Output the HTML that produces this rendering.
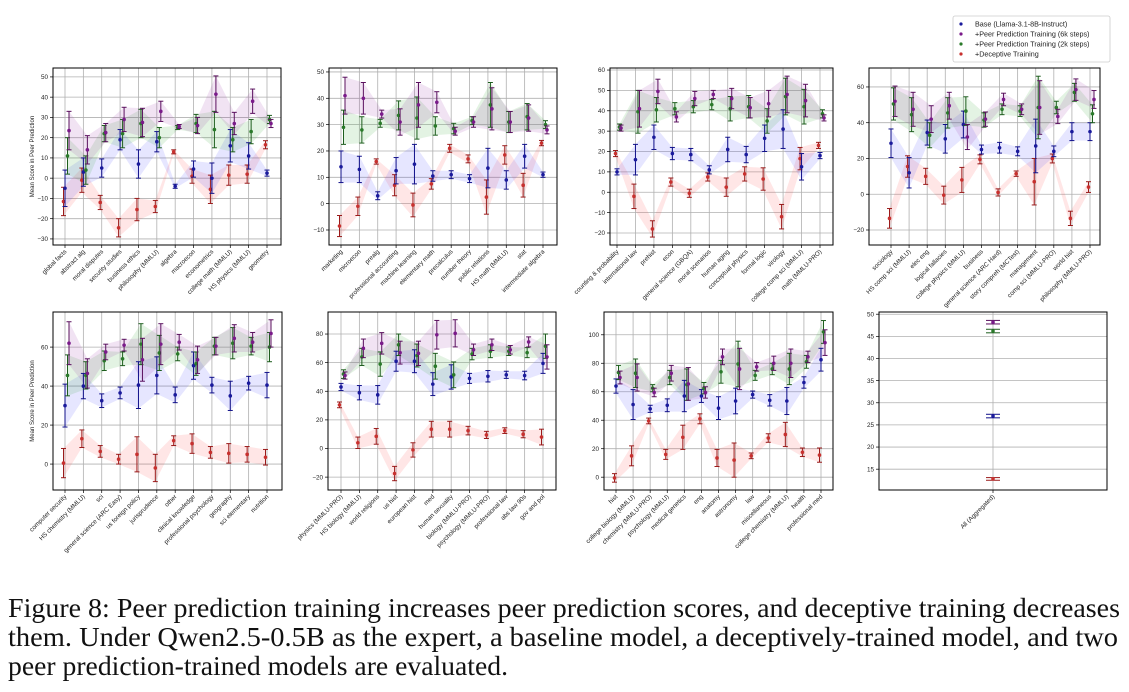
<!DOCTYPE html>
<html><head><meta charset="utf-8"><style>
html,body{margin:0;padding:0;background:#fff;}
svg{display:block;font-family:"Liberation Sans",sans-serif;}
</style></head><body>
<svg id="fig" width="1129" height="692" viewBox="0 0 1129 692" xmlns="http://www.w3.org/2000/svg">
<g id="panels"></g>
<g id="legend">
<rect x="953" y="16" width="157" height="46" rx="2" fill="#fff" stroke="#ccc" stroke-width="0.8"/>
<circle cx="961" cy="24" r="1.6" fill="#1a1a9c"/>
<text x="975" y="26.5" font-size="7.2" fill="#222">Base (Llama-3.1-8B-Instruct)</text>
<circle cx="961" cy="34" r="1.6" fill="#7a1a8a"/>
<text x="975" y="36.5" font-size="7.2" fill="#222">+Peer Prediction Training (6k steps)</text>
<circle cx="961" cy="44" r="1.6" fill="#2a7a2a"/>
<text x="975" y="46.5" font-size="7.2" fill="#222">+Peer Prediction Training (2k steps)</text>
<circle cx="961" cy="54" r="1.6" fill="#c8302e"/>
<text x="975" y="56.5" font-size="7.2" fill="#222">+Deceptive Training</text>
</g>
<g font-family="Liberation Serif, serif" font-size="27.5" fill="#111">
<text x="8" y="617" textLength="1112" lengthAdjust="spacingAndGlyphs">Figure 8: Peer prediction training increases peer prediction scores, and deceptive training decreases</text>
<text x="8" y="646" textLength="1110" lengthAdjust="spacingAndGlyphs">them. Under Qwen2.5-0.5B as the expert, a baseline model, a deceptively-trained model, and two</text>
<text x="8" y="675" textLength="500" lengthAdjust="spacingAndGlyphs">peer prediction-trained models are evaluated.</text>
</g>
</svg>
<script>
const p1Cats=["global facts","abstract alg","moral disputes","security studies","business ethics","philosophy (MMLU)","algebra","macroecon","econometrics","college math (MMLU)","HS physics (MMLU)","geometry"];
const p1Blue=[[-5,9],[3,7],[5,4.5],[19,5],[7,7],[18,5],[-4,1],[4.5,4],[0,7.5],[16,8],[11,6.5],[2.5,1.5]];
const p1Green=[[11,9],[4,7],[22,4],[22,7],[27,7],[20,5],[25,1],[27,4.5],[24,9],[19,6],[23,6],[29,2]];
const p1Purple=[[23.5,9.5],[14,7],[22.5,4.5],[29,6],[27.5,7],[33,5],[25.5,1],[26,4],[41.5,9],[27,5.5],[38,6],[27,2]];
const p1Red=[[-11.5,7],[-1,6],[-12,3.5],[-24.5,4.5],[-15.5,5.5],[-14,3],[13,1],[1,3.5],[-5.5,7],[1.5,5],[2,4.5],[16.5,2]];
const p1Ticks=[-30,-20,-10,0,10,20,30,40,50];

const p2Cats=["marketing","microecon","prealg","professional accounting","machine learning","elementary math","precalculus","number theory","public relations","HS math (MMLU)","stat","intermediate algebra"];
const p2Blue=[[14,6],[13,5],[3,1.5],[12.5,5],[15,7.5],[10.5,2],[11,1.5],[9.5,1.5],[13.5,7.5],[9,3.5],[18,4.5],[11,1]];
const p2Green=[[29,6.5],[28,5],[30.5,1.5],[33.5,5.5],[32.5,8],[29.5,3.5],[28.5,2],[31.5,1.5],[37.5,8.5],[31,4],[33,5],[30,1.5]];
const p2Purple=[[41,7],[40,6],[34,1.5],[31,5],[37.5,8.5],[38.5,4],[27.5,1.5],[31,2],[36,8],[31,4],[32.5,5],[28,1.5]];
const p2Red=[[-8.5,4],[-1,3.5],[16,1],[7,4],[-0.5,4.5],[7.5,2],[21,1.5],[17,1.5],[2.5,6.5],[18.5,3.5],[7,4.5],[23,1]];
const p2Ticks=[-10,0,10,20,30,40,50];

const p3Cats=["counting & probability","international law","prehist","econ","general science (GBQA)","moral scenarios","human aging","conceptual physics","formal logic","virology","college comp sci (MMLU)","math (MMLU-PRO)"];
const p3Blue=[[10,1.5],[16,7.5],[27,6],[19,3],[18.5,3],[11,2],[21,6],[18.5,4],[26.5,6.5],[31,9.5],[12.5,6.5],[18,1.5]];
const p3Green=[[32,1.5],[39.5,10.5],[40.5,6],[41,3],[42,3],[43,2.5],[41,6],[42,5.5],[35,6],[47,9],[42,8.5],[38.5,2]];
const p3Purple=[[31.5,1.5],[41,9],[49.5,6],[37,2.5],[46,3.5],[48,2],[46,5],[41.5,5],[43.5,6.5],[48,9],[45,8],[36.5,1.5]];
const p3Red=[[19,1.5],[-2,6],[-18,4],[5,2],[-0.5,2],[7.5,2],[2.5,4.5],[9,3.5],[6.5,5.5],[-12,6],[16.5,5.5],[23,1.5]];
const p3Ticks=[-20,-10,0,10,20,30,40,50,60];

const p4Cats=["sociology","HS comp sci (MMLU)","elec eng","logical fallacies","college physics (MMLU)","business","general science (ARC Hard)","story compreh (MCTest)","management","comp sci (MMLU-PRO)","world hist","philosophy (MMLU-PRO)"];
const p4Blue=[[28.5,8],[12,8.5],[34.5,7],[31,8],[39,7.5],[25,2.5],[26,3],[24,2.5],[27,15],[24,3],[35,5],[35,5]];
const p4Green=[[50.5,9],[44.5,9.5],[33,7],[45.5,8.5],[46.5,8],[41.5,4],[47.5,3],[46.5,3],[48.5,17.5],[48.5,3.5],[57,5],[45,5]];
const p4Purple=[[52,8.5],[47.5,9.5],[42,7.5],[49.5,7.5],[32,7],[42,4],[53,3.5],[47.5,3],[48.5,15],[43.5,4],[58.5,6],[53,5]];
const p4Red=[[-13.5,5.5],[15.5,6],[10,4.5],[-0.5,5],[8,7],[19.5,2.5],[1,2],[11.5,1.5],[7,13],[20,2.5],[-13.5,4],[4,3]];
const p4Ticks=[-20,0,20,40,60];

const p5Cats=["computer security","HS chemistry (MMLU)","sci","general science (ARC Easy)","us foreign policy","jurisprudence","other","clinical knowledge","professional psychology","geography","sci elementary","nutrition"];
const p5Blue=[[30,11],[40,6.5],[32.5,3.5],[36.5,3],[40.5,12],[45.5,9.5],[35.5,4],[50.5,7],[40.5,4],[35,7.5],[41.5,3.5],[40.5,6.5]];
const p5Green=[[45.5,10.5],[45.5,7],[53,5],[54,3.5],[61.5,10.5],[57,9],[56.5,3.5],[51.5,6],[60.5,4.5],[62,8],[60.5,4.5],[60,7.5]];
const p5Purple=[[62,11],[46.5,7.5],[57.5,4],[61,3],[53.5,11],[61.5,10.5],[62.5,4],[53.5,7],[60.5,4.5],[64.5,7],[62.5,5],[67,7]];
const p5Red=[[0.5,7.5],[13,4.5],[6.5,3],[2.5,2.5],[5,9],[-2,7],[12,2.5],[10.5,5],[6,3],[5.5,5],[5,4],[3.5,4]];
const p5Ticks=[0,20,40,60];

const p6Cats=["physics (MMLU-PRO)","HS biology (MMLU)","world religions","us hist","european hist","med","human sexuality","biology (MMLU-PRO)","psychology (MMLU-PRO)","professional law","abs law 90s","gov and pol"];
const p6Blue=[[43,2.5],[39,5],[37.5,6.5],[61,7],[61,8],[45,8],[50,8.5],[49,3.5],[50.5,4],[51.5,2.5],[51,3],[59.5,7]];
const p6Green=[[52,3],[64,6],[59,8.5],[72.5,7.5],[65,8],[57.5,9],[51.5,9],[66,4],[68,4.5],[68,3],[67,3.5],[71.5,8.5]];
const p6Purple=[[51,2.5],[70,6.5],[73.5,7.5],[67,8],[66.5,8.5],[79.5,10],[80.5,9.5],[69,4],[72.5,4],[69,3],[74.5,3.5],[64,8.5]];
const p6Red=[[30.5,2],[4,4],[8.5,5.5],[-17.5,5],[-1,5],[13.5,5.5],[13.5,5.5],[12.5,3],[9.5,2.5],[12.5,2],[10,2.5],[8,5.5]];
const p6Ticks=[-20,0,20,40,60,80];

const p7Cats=["hist","college biology (MMLU)","chemistry (MMLU-PRO)","psychology (MMLU)","medical genetics","eng","anatomy","astronomy","law","miscellaneous","college chemistry (MMLU)","health","professional med"];
const p7Blue=[[64,5],[51,10.5],[48,2.5],[50.5,4.5],[57,11],[57,4.5],[48.5,8],[53.5,9],[58,2.5],[54,4],[53.5,9.5],[66.5,4],[82.5,8]];
const p7Green=[[73.5,5],[73,10],[62.5,2.5],[70,5],[65,11],[62.5,4],[74,8],[79.5,16],[71.5,3.5],[76,4],[76,11],[81,4.5],[102,8]];
const p7Purple=[[70,4.5],[70,9.5],[59.5,3],[73,5.5],[65.5,11.5],[59.5,4],[84.5,5.5],[76,14.5],[77.5,3],[80,5],[80,10],[84.5,4],[94.5,9]];
const p7Red=[[-0.5,3],[15,7],[39.5,2],[16,3.5],[28,8.5],[41,3.5],[13.5,6],[12,12],[15,2],[27.5,3],[30,8.5],[17.5,3],[15.5,5]];
const p7Ticks=[0,20,40,60,80,100];

const p8Cats=["All (Aggregated)"];
const p8Blue=[[27,0.4]];
const p8Green=[[46.2,0.4]];
const p8Purple=[[48.2,0.4]];
const p8Red=[[12.8,0.3]];
const p8Ticks=[15,20,25,30,35,40,45,50];

const NS="http://www.w3.org/2000/svg";
const root=document.getElementById('panels');
function mk(tag,attrs,parent){const e=document.createElementNS(NS,tag);for(const k in attrs)e.setAttribute(k,attrs[k]);parent.appendChild(e);return e;}

const series=[
 {key:'red',col:'#c8302e',cap:'#9a1a1a',band:'rgba(255,60,60,0.13)',off:-1.5},
 {key:'blue',col:'#1a1a9c',cap:'#10108a',band:'rgba(60,60,255,0.13)',off:0},
 {key:'green',col:'#2a7a2a',cap:'#1e5e1e',band:'rgba(40,160,40,0.13)',off:2.5},
 {key:'purple',col:'#7a1a8a',cap:'#5a105e',band:'rgba(150,40,160,0.13)',off:4}
];

const panels=[
 {id:1,x0:53,x1:281,y0:68,y1:245,ymin:-33,ymax:54.4,c0:65,c1:267,cats:p1Cats,ticks:p1Ticks,d:{blue:p1Blue,green:p1Green,purple:p1Purple,red:p1Red},ylabel:true},
 {id:2,x0:329,x1:557,y0:68,y1:245,ymin:-15.7,ymax:51.5,c0:341,c1:543,cats:p2Cats,ticks:p2Ticks,d:{blue:p2Blue,green:p2Green,purple:p2Purple,red:p2Red}},
 {id:3,x0:610,x1:833,y0:68,y1:245,ymin:-25.9,ymax:61,c0:617,c1:820,cats:p3Cats,ticks:p3Ticks,d:{blue:p3Blue,green:p3Green,purple:p3Purple,red:p3Red}},
 {id:4,x0:869,x1:1100,y0:68,y1:245,ymin:-28.4,ymax:70.6,c0:891,c1:1090,cats:p4Cats,ticks:p4Ticks,d:{blue:p4Blue,green:p4Green,purple:p4Purple,red:p4Red}},
 {id:5,x0:53,x1:282,y0:312,y1:490,ymin:-13.3,ymax:78,c0:65,c1:267,cats:p5Cats,ticks:p5Ticks,d:{blue:p5Blue,green:p5Green,purple:p5Purple,red:p5Red},ylabel:true},
 {id:6,x0:328,x1:556,y0:312,y1:490,ymin:-29,ymax:95.4,c0:341,c1:543,cats:p6Cats,ticks:p6Ticks,d:{blue:p6Blue,green:p6Green,purple:p6Purple,red:p6Red}},
 {id:7,x0:604,x1:833,y0:312,y1:490,ymin:-9,ymax:116,c0:616,c1:821,cats:p7Cats,ticks:p7Ticks,d:{blue:p7Blue,green:p7Green,purple:p7Purple,red:p7Red}},
 {id:8,x0:879,x1:1107,y0:312,y1:490,ymin:10.3,ymax:50.5,c0:993,c1:993,cats:p8Cats,ticks:p8Ticks,d:{blue:p8Blue,green:p8Green,purple:p8Purple,red:p8Red},single:true}
];

panels.forEach(p=>{
 const g=mk('g',{},root);
 
 
 const n=p.cats.length;
 const xs=i=>n===1?p.c0:p.c0+(p.c1-p.c0)*i/(n-1);
 const ys=v=>p.y1-(v-p.ymin)/(p.ymax-p.ymin)*(p.y1-p.y0);
 p.ticks.forEach(t=>{
  const y=ys(t);
  const gl=mk('line',{x1:p.x0,x2:p.x1,y1:y,y2:y,stroke:'#b0b0b0','stroke-width':0.8},g);
  
  
  mk('line',{x1:p.x0-3,x2:p.x0,y1:y,y2:y,stroke:'#000','stroke-width':0.7},g);
  const tl=mk('text',{x:p.x0-5,y:y+2.2,'font-size':6.3,'text-anchor':'end',fill:'#222'},g);
  tl.textContent=String(t).replace('-','\u2212');
  
  
 });
 p.cats.forEach((c,i)=>{
  const x=xs(i);
  const gl=mk('line',{x1:x,x2:x,y1:p.y0,y2:p.y1,stroke:'#b0b0b0','stroke-width':0.8},g);
  
  
  mk('line',{x1:x,x2:x,y1:p.y1,y2:p.y1+3,stroke:'#000','stroke-width':0.7},g);
  const tl=mk('text',{x:x+2,y:p.y1+7,'font-size':6.3,'text-anchor':'end',fill:'#222',transform:`rotate(-45 ${x+2} ${p.y1+7})`},g);
  tl.textContent=c;
  
  
 });
 if(!p.single){
  series.forEach(s=>{
   const arr=p.d[s.key];
   let up=[],lo=[];
   arr.forEach((v,i)=>{const x=xs(i)+s.off;up.push(x+','+ys(v[0]+v[1]));lo.push(x+','+ys(v[0]-v[1]));});
   const poly=mk('polygon',{points:up.concat(lo.reverse()).join(' '),fill:s.band,stroke:'none'},g);
   
   
  });
 }
 series.forEach(s=>{
  const arr=p.d[s.key];
  const cw=p.single?7:2.5;
  arr.forEach((v,i)=>{
   const x=xs(i)+(p.single?0:s.off);
   const a=ys(v[0]+v[1]),b=ys(v[0]-v[1]);
   const eg=mk('g',{},g);
   
   
   mk('line',{x1:x,x2:x,y1:a,y2:b,stroke:s.cap,'stroke-width':1},eg);
   mk('line',{x1:x-cw,x2:x+cw,y1:a,y2:a,stroke:s.cap,'stroke-width':1},eg);
   mk('line',{x1:x-cw,x2:x+cw,y1:b,y2:b,stroke:s.cap,'stroke-width':1},eg);
   const pt=mk('circle',{cx:x,cy:ys(v[0]),r:1.8,fill:s.col},g);
   
   
  });
 });
 const fr=mk('rect',{x:p.x0,y:p.y0,width:p.x1-p.x0,height:p.y1-p.y0,fill:'none',stroke:'#000','stroke-width':1},g);
 
 
 if(p.ylabel){
  const cy=(p.y0+p.y1)/2;
  const yl=mk('text',{x:34,y:cy,'font-size':6,'text-anchor':'middle',fill:'#222',transform:`rotate(-90 34 ${cy})`},g);
  yl.textContent='Mean Score in Peer Prediction';
  
  
 }
});
</script>
</body></html>
